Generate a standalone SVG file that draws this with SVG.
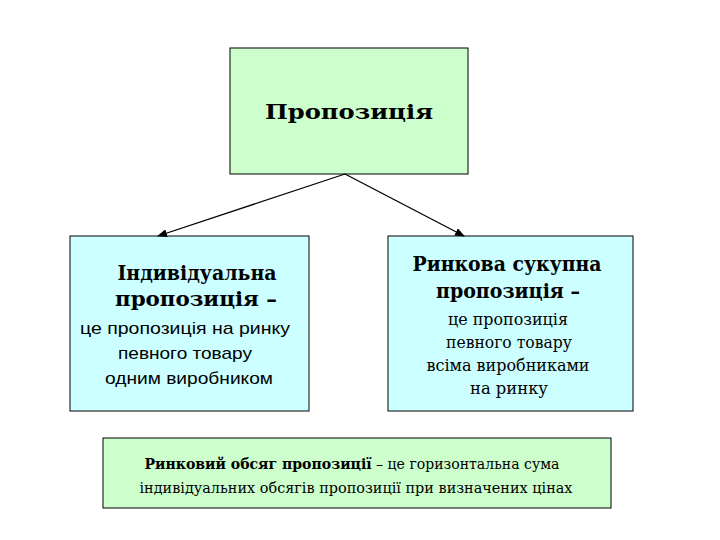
<svg xmlns="http://www.w3.org/2000/svg" width="720" height="540" viewBox="0 0 720 540">
<style>
.b{stroke:#000;stroke-width:1}
.g{fill:#ccffcc}.c{fill:#ccffff}
.t{font-family:"DejaVu Serif","Noto Serif",serif;text-anchor:middle;fill:#000}
.s{font-family:"Liberation Sans","DejaVu Sans",sans-serif;text-anchor:middle;fill:#000;font-size:17px}
.h{font-size:21px;font-weight:bold}
</style>
<defs><marker id="a" markerWidth="10" markerHeight="8" refX="9" refY="4" orient="auto" markerUnits="userSpaceOnUse"><path d="M0,0L10,4L0,8z" fill="#000"/></marker></defs>
<rect width="720" height="540" fill="#fff"/>
<g id="top"><rect class="b g" x="230" y="48" width="238" height="126"/><text class="t h" font-size="23" x="349" y="119" textLength="168" lengthAdjust="spacingAndGlyphs">Пропозиція</text></g>
<g id="left"><rect class="b c" x="70" y="236" width="239" height="175"/>
<text class="t h" x="197" y="280" textLength="159" lengthAdjust="spacingAndGlyphs">Індивідуальна</text><text class="t h" x="196" y="306" textLength="162" lengthAdjust="spacingAndGlyphs">пропозиція –</text>
<text class="s" x="185" y="334" textLength="210" lengthAdjust="spacingAndGlyphs">це пропозиція на ринку</text><text class="s" x="185" y="359" textLength="134" lengthAdjust="spacingAndGlyphs">певного товару</text><text class="s" x="189" y="384" textLength="168" lengthAdjust="spacingAndGlyphs">одним виробником</text></g>
<g id="right"><rect class="b c" x="388" y="236" width="245" height="175"/>
<text class="t h" x="507" y="271" textLength="189" lengthAdjust="spacingAndGlyphs">Ринкова сукупна</text><text class="t h" x="508" y="298" textLength="144" lengthAdjust="spacingAndGlyphs">пропозиція –</text>
<text class="t" font-size="16" x="508" y="325" textLength="120" lengthAdjust="spacingAndGlyphs">це пропозиція</text><text class="t" font-size="16" x="509" y="348" textLength="126" lengthAdjust="spacingAndGlyphs">певного товару</text><text class="t" font-size="16" x="508" y="371" textLength="163" lengthAdjust="spacingAndGlyphs">всіма виробниками</text><text class="t" font-size="16" x="509" y="394" textLength="78" lengthAdjust="spacingAndGlyphs">на ринку</text></g>
<g id="bottom"><rect class="b g" x="103" y="438" width="508" height="70"/>
<text class="t" font-size="15" x="352" y="469" textLength="415" lengthAdjust="spacingAndGlyphs"><tspan font-weight="bold">Ринковий обсяг пропозиції</tspan> – це горизонтальна сума</text>
<text class="t" font-size="15" x="356" y="493" textLength="433" lengthAdjust="spacingAndGlyphs">індивідуальних обсягів пропозиції при визначених цінах</text></g>
<g id="connectors" stroke="#000" stroke-width="1.3" fill="none">
<line x1="345" y1="174" x2="158" y2="236" marker-end="url(#a)"/>
<line x1="345" y1="174" x2="464" y2="236" marker-end="url(#a)"/>
</g>
</svg>
